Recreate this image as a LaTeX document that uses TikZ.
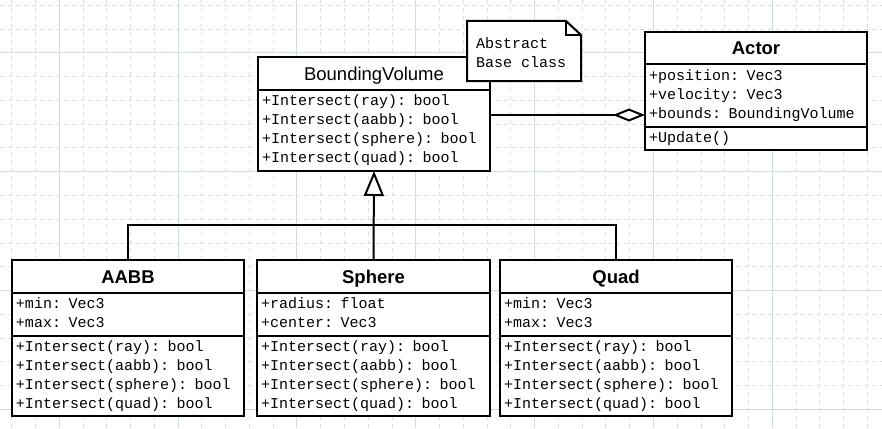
\documentclass[tikz,border=0pt]{standalone}
\usepackage{fontspec}
\setmainfont{Liberation Sans}
\newfontfamily\umlmono{Liberation Mono}
\usepackage{xcolor}
\usepackage{tikz}
\usetikzlibrary{arrows.meta, positioning}
\definecolor{gridminor}{RGB}{216,224,224}
\definecolor{gridmajor}{RGB}{206,222,222}
\tikzstyle{minorline} = [draw=gridminor, line width=1pt, dash pattern=on 4pt off 4pt]
\tikzstyle{majorline} = [draw=gridmajor, line width=1pt]
\tikzstyle{umlline} = [draw=black, line width=2pt]
\tikzstyle{classtitle} = [rectangle, minimum height=33, text height=13pt, text depth=0pt, draw=black, line width=2pt, outer sep=0pt, fill=white, font=\fontsize{18.5}{22}\selectfont\bfseries]
\tikzstyle{compartment} = [rectangle, draw=black, line width=2pt, outer sep=0pt, fill=white, align=left, inner xsep=4pt, inner ysep=1pt, font=\umlmono\fontsize{15}{19}\selectfont, execute at begin node=\strut, execute at end node=\strut]
\tikzstyle{notetext} = [align=left, inner sep=0pt, font=\umlmono\fontsize{15}{19}\selectfont, execute at begin node=\strut, execute at end node=\strut]
\tikzstyle{aggregation} = [umlline, -{Diamond[open, fill=white, length=32pt, width=13pt]}]
\tikzstyle{inherit} = [umlline, -{Triangle[open, fill=white, length=25pt, width=20pt]}]

\begin{document}
\begin{tikzpicture}[x=1pt, y=-1pt]
	\useasboundingbox (0,0) rectangle (882,428);
	
	% background grid
	\foreach \k in {0,...,36}
		\draw [minorline] ({11.7+23.77*\k},0) -- ({11.7+23.77*\k},428);
	\foreach \k in {0,...,17}
		\draw [minorline] (0,{5.3+23.77*\k}) -- (882,{5.3+23.77*\k});
	\foreach \k in {2,7,...,32}
		\draw [majorline] ({11.7+23.77*\k},0) -- ({11.7+23.77*\k},428);
	\foreach \k in {2,7,12,17}
		\draw [majorline] (0,{5.3+23.77*\k}) -- (882,{5.3+23.77*\k});
	
	% base class
	\node (bv) [classtitle, minimum width=232, anchor=north west, font=\fontsize{18.5}{22}\selectfont] at (258,57) {BoundingVolume};
	\node (bv-ops) [compartment, text width=224pt, minimum height=81, below=0pt of bv]
	{+Intersect(ray): bool\\+Intersect(aabb): bool\\+Intersect(sphere): bool\\+Intersect(quad): bool};
	
	% note
	\node (note) [rectangle, inner sep=0pt, outer sep=0pt, minimum width=114, minimum height=60, anchor=north west] at (467,21) {};
	\draw [umlline, fill=white] (note.north west) -- ([xshift=-15pt]note.north east) -- ([yshift=-14pt]note.north east) -- (note.south east) -- (note.south west) -- cycle;
	\draw [umlline] ([xshift=-15pt]note.north east) |- ([yshift=-14pt]note.north east);
	\node (note-text) [notetext, anchor=west] at ([xshift=9pt, yshift=-4pt]note.west) {Abstract\\Base class};
	
	% actor
	\node (actor) [classtitle, minimum width=222, minimum height=32, anchor=north west] at (645,32) {Actor};
	\node (actor-attr) [compartment, text width=214pt, minimum height=63, below=0pt of actor]
	{+position: Vec3\\+velocity: Vec3\\+bounds: BoundingVolume};
	\node (actor-ops) [compartment, text width=214pt, minimum height=23, below=0pt of actor-attr] {+Update()};
	
	% derived classes
	\node (aabb) [classtitle, minimum width=232, anchor=north west] at (12,260) {AABB};
	\node (aabb-attr) [compartment, text width=224pt, minimum height=43, below=0pt of aabb] {+min: Vec3\\+max: Vec3};
	\node (aabb-ops) [compartment, text width=224pt, minimum height=80, below=0pt of aabb-attr]
	{+Intersect(ray): bool\\+Intersect(aabb): bool\\+Intersect(sphere): bool\\+Intersect(quad): bool};
	
	\node (sphere) [classtitle, minimum width=233, right=13pt of aabb] {Sphere};
	\node (sphere-attr) [compartment, text width=225pt, minimum height=43, below=0pt of sphere] {+radius: float\\+center: Vec3};
	\node (sphere-ops) [compartment, text width=225pt, minimum height=80, below=0pt of sphere-attr]
	{+Intersect(ray): bool\\+Intersect(aabb): bool\\+Intersect(sphere): bool\\+Intersect(quad): bool};
	
	\node (quad) [classtitle, minimum width=232, right=10pt of sphere] {Quad};
	\node (quad-attr) [compartment, text width=224pt, minimum height=43, below=0pt of quad] {+min: Vec3\\+max: Vec3};
	\node (quad-ops) [compartment, text width=224pt, minimum height=80, below=0pt of quad-attr]
	{+Intersect(ray): bool\\+Intersect(aabb): bool\\+Intersect(sphere): bool\\+Intersect(quad): bool};
	
	% connectors
	\coordinate (split) at (sphere.north |- 0,225);
	\draw [umlline] (aabb.north) |- (split) -| (quad.north);
	\draw [inherit] (sphere.north) -- (bv-ops.south);
	\draw [aggregation] (bv-ops.east |- 0,115) -- (actor-attr.west |- 0,115);
	
\end{tikzpicture}
\end{document}
